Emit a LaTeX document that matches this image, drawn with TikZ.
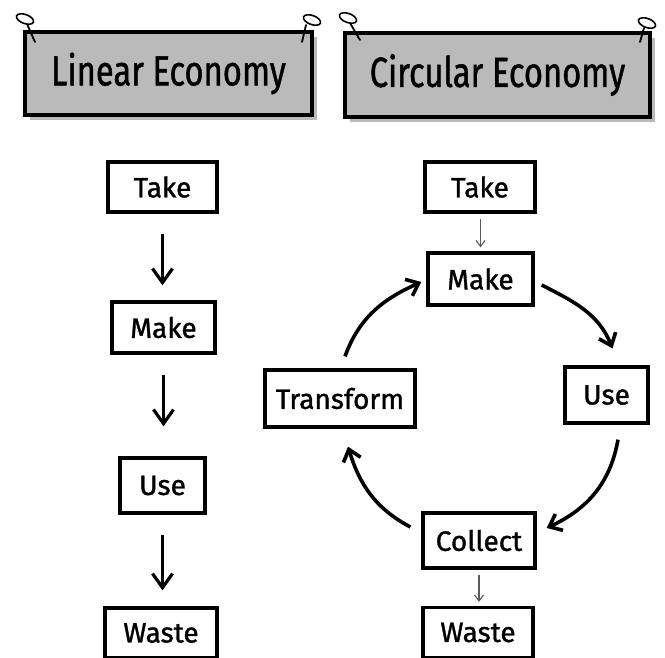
\documentclass[tikz,border=0pt]{standalone}
\usepackage{fontspec}
\setmainfont{Fira Sans}[FakeBold=1.2]
\usetikzlibrary{arrows.meta,shadows}
\begin{document}
\begin{tikzpicture}[x=1pt,y=1pt,
  box/.style={draw=black,line width=3.3pt,fill=white,inner sep=0pt,font=\fontsize{28}{32}\selectfont},
  banner/.style={draw=black,line width=3.3pt,fill=black!27,inner sep=0pt,
    font=\fontsize{42}{48}\selectfont,
    drop shadow={shadow xshift=5pt,shadow yshift=-5pt,fill=black!45,opacity=0.6}},
  pinring/.style={draw=black,line width=1.6pt},
  pinline/.style={draw=black,line width=1.8pt,line cap=round},
  flow/.style={line width=3.2pt,-{Straight Barb[length=14pt,width=20pt,line width=3.2pt]}},
  cyc/.style={line width=3.6pt,-{Straight Barb[length=11pt,width=18pt,line width=3.6pt]}},
  thin/.style={line width=1.1pt,draw=black!65,-{Straight Barb[length=6pt,width=9pt,line width=1.1pt]}}
]
\useasboundingbox (0,0) rectangle (665,-658);

% banners
\node[banner,minimum width=287pt,minimum height=83pt] (lban) at (168.5,-73.5) {\scalebox{0.78}[1]{Linear Economy}};
\node[banner,minimum width=305pt,minimum height=84pt] (cban) at (497.5,-75) {\scalebox{0.78}[1]{Circular Economy}};

% pins
\draw[pinring,rotate around={-20:(25,-19)}] (25,-19) ellipse (9 and 4.5);
\draw[pinline] (27,-24) -- (35,-42);
\draw[pinring,rotate around={-20:(312,-20)}] (312,-20) ellipse (9 and 4.5);
\draw[pinline] (306,-25) -- (302,-42);
\draw[pinring,rotate around={-20:(348,-18)}] (348,-18) ellipse (9 and 4.5);
\draw[pinline] (350,-23) -- (360,-40);
\draw[pinring,rotate around={-20:(647,-23)}] (647,-23) ellipse (9 and 4.5);
\draw[pinline] (644,-28) -- (640,-42);

% linear column
\node[box,minimum width=109pt,minimum height=50pt] (ltake) at (162.5,-187) {Take};
\node[box,minimum width=103pt,minimum height=51pt] (lmake) at (163.5,-327.5) {Make};
\node[box,minimum width=85pt,minimum height=55pt] (luse) at (162.5,-485.5) {Use};
\node[box,minimum width=112pt,minimum height=50pt] (lwaste) at (161,-633) {Waste};

\draw[flow,shorten <=20pt,shorten >=15pt] (ltake.south) -- (ltake.south |- lmake.north);
\draw[flow,shorten <=20pt,shorten >=30pt] (lmake.south) -- (lmake.south |- luse.north);
\draw[flow,shorten <=20pt,shorten >=16pt] (luse.south) -- (luse.south |- lwaste.north);

% circular
\node[box,minimum width=110pt,minimum height=50pt] (ctake) at (480,-187) {Take};
\node[box,minimum width=105pt,minimum height=52pt] (cmake) at (480.5,-279) {Make};
\node[box,minimum width=150pt,minimum height=57pt] (ctrans) at (340,-398.5) {Transform};
\node[box,minimum width=83pt,minimum height=56pt] (cuse) at (606.5,-395) {Use};
\node[box,minimum width=112pt,minimum height=55pt] (ccoll) at (479,-540.5) {Collect};
\node[box,minimum width=110pt,minimum height=50pt] (cwaste) at (478,-632.5) {Waste};

\draw[thin,shorten <=5pt,shorten >=4pt] (ctake.south -| cmake.north) -- (cmake.north);
\draw[thin,shorten <=5pt,shorten >=4pt] (ccoll.south) -- (ccoll.south |- cwaste.north);

\draw[cyc] ([shift={(7,-6)}]cmake.east) to[out=-27,in=112] ([shift={(6,17)}]cuse.north);
\draw[cyc] ([shift={(11.5,-15)}]cuse.south) to[out=-100,in=25] ([shift={(10,12.5)}]ccoll.east);
\draw[cyc] ([shift={(-11,13.5)}]ccoll.west) to[out=152,in=-73] ([shift={(8,-18)}]ctrans.south);
\draw[cyc] ([shift={(5,12)}]ctrans.north) to[out=70,in=204] ([shift={(-5,-3)}]cmake.west);
\end{tikzpicture}
\end{document}
